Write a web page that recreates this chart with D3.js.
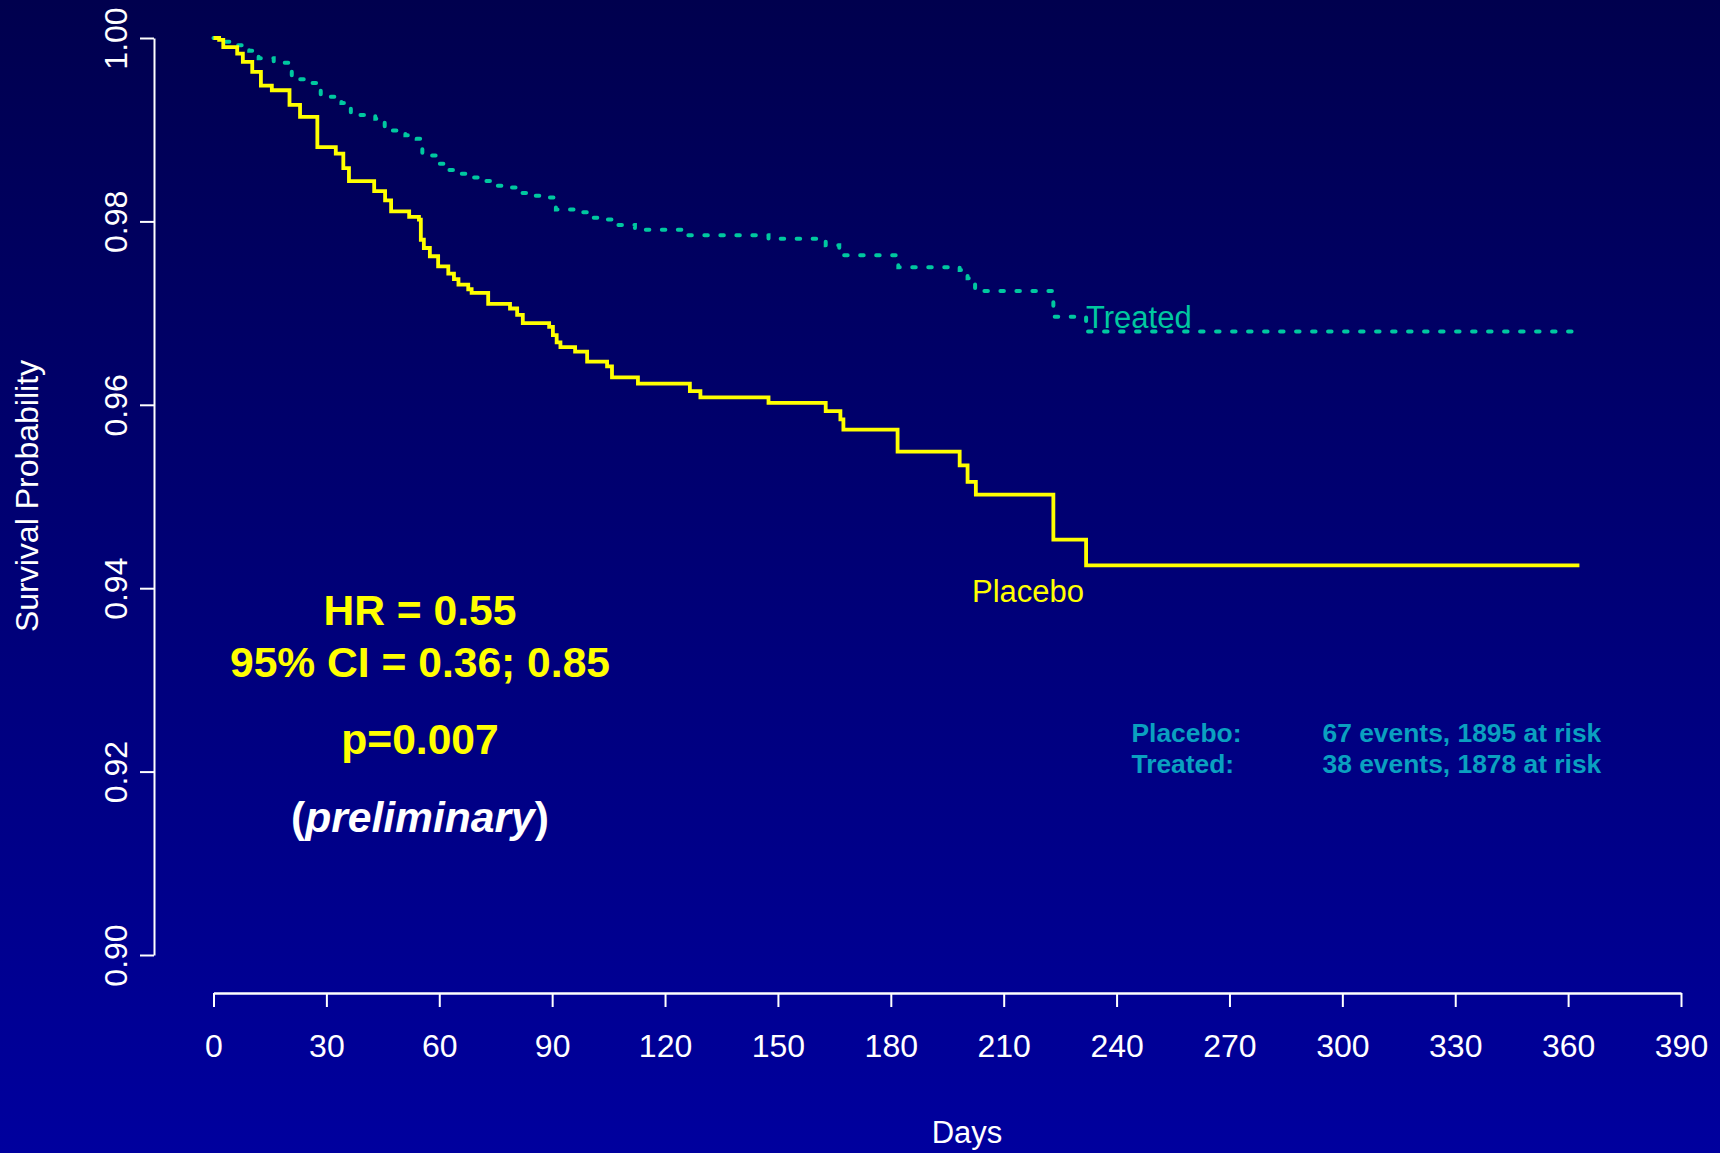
<!DOCTYPE html>
<html>
<head>
<meta charset="utf-8">
<script src="https://cdn.jsdelivr.net/npm/d3@7"></script>
<style>
  html, body { margin: 0; padding: 0; background: #000060; }
  svg { display: block; }
  text { font-family: "Liberation Sans", Arial, Helvetica, sans-serif; }
</style>
</head>
<body>
<svg id="chart" width="1720" height="1153"></svg>
<script>
// Kaplan-Meier estimates: day of each step and survival after it
const placeboDays = [0, 1.5, 2.6, 6.3, 7.8, 10.3, 12.6, 15.5, 20.2, 23.0, 27.6, 32.5, 34.5, 36.0,
  42.7, 45.6, 47.2, 52.0, 54.6, 55.1, 55.9, 57.5, 59.7, 62.4, 63.9, 65.1, 67.7, 68.6, 73.0,
  78.8, 80.7, 82.2, 89.2, 90.2, 91.2, 92.2, 96.1, 99.3, 104.6, 105.9, 112.8, 126.6, 129.4,
  147.5, 162.7, 166.6, 167.4, 181.8, 198.3, 200.4, 202.6, 223.2, 231.9, 363];
const placeboSurv = [1.0, 0.9998, 0.9990, 0.9983, 0.9974, 0.9963, 0.9948, 0.9943, 0.9927, 0.9914,
  0.9881, 0.9874, 0.9858, 0.9844, 0.9833, 0.9823, 0.9811, 0.9805, 0.9802, 0.9780, 0.9771,
  0.9762, 0.9751, 0.9743, 0.9737, 0.9731, 0.9726, 0.9722, 0.9710, 0.9705, 0.9698, 0.9689,
  0.9685, 0.9676, 0.9668, 0.9663, 0.9658, 0.9647, 0.9642, 0.9630, 0.9623, 0.9615, 0.9608,
  0.9602, 0.9593, 0.9584, 0.9573, 0.9549, 0.9534, 0.9516, 0.9502, 0.9453, 0.9425, 0.9425];

const treatedDays = [0, 2.5, 6.5, 9.5, 12, 16, 20, 20.8, 26, 28.5, 34, 36.5, 43, 45.5, 51, 54,
  55.5, 59.5, 62.5, 65.5, 69, 72, 75, 79, 82, 85, 89, 91, 96.5, 100, 104, 107, 112, 126,
  147.5, 162.7, 166.3, 182, 198.3, 200.4, 202.4, 223.2, 231.9, 362];
const treatedSurv = [1.0, 0.9996, 0.9992, 0.9986, 0.9978, 0.9973, 0.9968, 0.9955, 0.9951, 0.9936,
  0.9929, 0.9916, 0.9912, 0.9899, 0.9894, 0.9890, 0.9872, 0.9863, 0.9856, 0.9852, 0.9848,
  0.9844, 0.9839, 0.9837, 0.9831, 0.9828, 0.9826, 0.9813, 0.9810, 0.9804, 0.9802, 0.9796,
  0.9791, 0.9785, 0.9781, 0.9774, 0.9763, 0.9750, 0.9747, 0.9738, 0.9724, 0.9696, 0.9680, 0.9680];

const xTicks = [0, 30, 60, 90, 120, 150, 180, 210, 240, 270, 300, 330, 360, 390];
const yTicks = [0.90, 0.92, 0.94, 0.96, 0.98, 1.00];

const statLines = ["HR = 0.55", "95% CI = 0.36; 0.85", "p=0.007"];
const groupNames = ["Placebo:", "Treated:"];
const groupEvents = [67, 38];
const groupAtRisk = [1895, 1878];

const svg = d3.select("#chart");

// background: dark navy fading to brighter blue
const defs = svg.append("defs");
const grad = defs.append("linearGradient").attr("id", "bg").attr("x1", 0).attr("y1", 0).attr("x2", 0).attr("y2", 1);
grad.append("stop").attr("offset", "0%").attr("stop-color", "#00004e");
grad.append("stop").attr("offset", "100%").attr("stop-color", "#00009e");
svg.append("rect").attr("width", 1720).attr("height", 1153).attr("fill", "url(#bg)");

const x = d3.scaleLinear().domain([0, 390]).range([213.5, 1681]);
const y = d3.scaleLinear().domain([0.90, 1.00]).range([955, 38]);

// y axis with rotated tick labels
const yAxis = svg.append("g")
  .attr("transform", "translate(154,0)")
  .call(d3.axisLeft(y).tickValues(yTicks).tickSize(14).tickSizeOuter(0).tickFormat(d3.format(".2f")));
yAxis.select(".domain").attr("stroke", "#fff").attr("stroke-width", 2);
yAxis.selectAll(".tick line").attr("stroke", "#fff").attr("stroke-width", 2);
yAxis.selectAll(".tick text")
  .attr("x", null).attr("dy", null)
  .attr("transform", "translate(-27,0) rotate(-90)")
  .attr("text-anchor", "middle")
  .attr("fill", "#fff")
  .style("font-size", "32px")
  .style("font-family", "'Liberation Sans', Arial, sans-serif");

// x axis
const xAxis = svg.append("g")
  .attr("transform", "translate(0,993)")
  .call(d3.axisBottom(x).tickValues(xTicks).tickSize(14).tickSizeOuter(0));
xAxis.select(".domain").attr("stroke", "#fff").attr("stroke-width", 2.5);
xAxis.selectAll(".tick line").attr("stroke", "#fff").attr("stroke-width", 2);
xAxis.selectAll(".tick text")
  .attr("y", 64).attr("dy", null)
  .attr("fill", "#fff")
  .style("font-size", "32px")
  .style("font-family", "'Liberation Sans', Arial, sans-serif");

// axis titles
svg.append("text")
  .attr("transform", "translate(38,496) rotate(-90)")
  .attr("text-anchor", "middle")
  .attr("fill", "#fff")
  .style("font-size", "32px")
  .text("Survival Probability");
svg.append("text")
  .attr("x", 967).attr("y", 1143)
  .attr("text-anchor", "middle")
  .attr("fill", "#fff")
  .style("font-size", "31px")
  .text("Days");

// survival curves
const step = d3.line()
  .x(d => x(d[0]))
  .y(d => y(d[1]))
  .curve(d3.curveStepAfter);

svg.append("path")
  .datum(treatedDays.map((d, i) => [d, treatedSurv[i]]))
  .attr("d", step)
  .attr("fill", "none")
  .attr("stroke", "#00c8a0")
  .attr("stroke-width", 4)
  .attr("stroke-linecap", "round")
  .attr("stroke-dasharray", "3.5,12.5");

svg.append("path")
  .datum(placeboDays.map((d, i) => [d, placeboSurv[i]]))
  .attr("d", step)
  .attr("fill", "none")
  .attr("stroke", "#ffff00")
  .attr("stroke-width", 3.8)
  .attr("stroke-linejoin", "miter");

// curve labels
svg.append("text")
  .attr("x", 1086).attr("y", 328)
  .attr("fill", "#00c8a0")
  .style("font-size", "31px")
  .text("Treated");
svg.append("text")
  .attr("x", 972).attr("y", 601.5)
  .attr("fill", "#ffff00")
  .style("font-size", "31px")
  .text("Placebo");

// hazard ratio summary
const statY = [625, 677, 754];
statLines.forEach((s, i) => {
  svg.append("text")
    .attr("x", 420).attr("y", statY[i])
    .attr("text-anchor", "middle")
    .attr("fill", "#ffff00")
    .style("font-size", "42.6px")
    .style("font-weight", "bold")
    .text(s);
});
const prelim = svg.append("text")
  .attr("x", 420).attr("y", 832)
  .attr("text-anchor", "middle")
  .attr("fill", "#fff")
  .style("font-size", "42.6px")
  .style("font-weight", "bold");
prelim.append("tspan").text("(");
prelim.append("tspan").style("font-style", "italic").text("preliminary");
prelim.append("tspan").text(")");

// events summary
const legY = [742, 773];
groupNames.forEach((g, i) => {
  svg.append("text")
    .attr("x", 1131.5).attr("y", legY[i])
    .attr("fill", "#0aa0c0")
    .style("font-size", "26.4px")
    .style("font-weight", "bold")
    .text(g);
  svg.append("text")
    .attr("x", 1322.5).attr("y", legY[i])
    .attr("fill", "#0aa0c0")
    .style("font-size", "26.4px")
    .style("font-weight", "bold")
    .text(`${groupEvents[i]} events, ${groupAtRisk[i]} at risk`);
});
</script>
</body>
</html>
